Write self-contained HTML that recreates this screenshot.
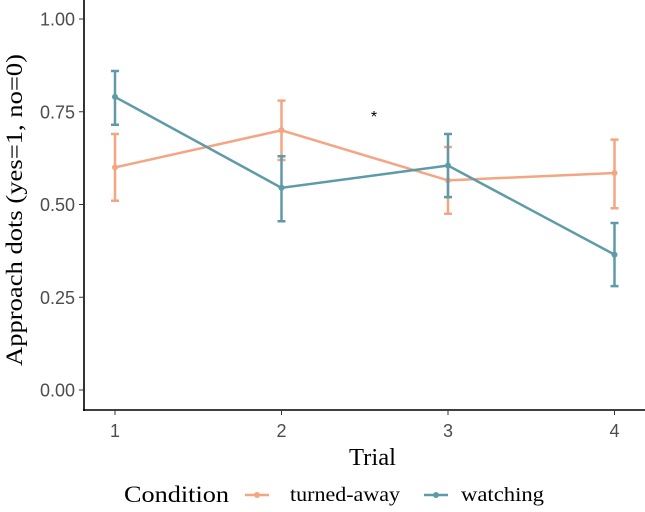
<!DOCTYPE html>
<html><head><meta charset="utf-8"><style>
body{margin:0;background:#fff;}
svg text{font-family:"Liberation Sans",sans-serif;}
.serif{font-family:"Liberation Serif",serif;}
</style></head><body>
<svg width="645" height="507">
<g id="g"></g>
</svg>
<script>
const trials=[1,2,3,4];
const yTicks=[0,0.25,0.5,0.75,1];
const yTickLabels=["0.00","0.25","0.50","0.75","1.00"];
const awayMean=[0.60,0.70,0.565,0.585];
const awayLo=[0.51,0.62,0.475,0.49];
const awayHi=[0.69,0.78,0.655,0.675];
const watchMean=[0.79,0.545,0.605,0.365];
const watchLo=[0.715,0.455,0.52,0.28];
const watchHi=[0.86,0.63,0.69,0.45];
const NS="http://www.w3.org/2000/svg";
const g=document.getElementById('g');
const X=t=>115+(t-1)*166.5;
const Y=v=>390-v*371;
function el(tag,a,parent){const e=document.createElementNS(NS,tag);for(const k in a)e.setAttribute(k,a[k]);(parent||g).appendChild(e);return e;}
let e;
e=el('line',{x1:84,y1:0,x2:84,y2:411,stroke:'#000','stroke-width':1.6});


e=el('line',{x1:83,y1:410,x2:645,y2:410,stroke:'#000','stroke-width':1.6});


yTicks.forEach((v,i)=>{
 e=el('line',{x1:79,x2:84,y1:Y(v),y2:Y(v),stroke:'#333'});
 
 
 e=el('text',{x:75,y:Y(v)+6.5,'text-anchor':'end','font-size':18,fill:'#4d4d4d'});
 e.textContent=yTickLabels[i];
 
 
});
trials.forEach(t=>{
 e=el('line',{x1:X(t),x2:X(t),y1:410,y2:415,stroke:'#333'});
 
 
 e=el('text',{x:X(t),y:437,'text-anchor':'middle','font-size':18,fill:'#4d4d4d'});
 e.textContent=t;
 
 
});
function series(mean,lo,hi,col,name){
 const pts=trials.map((t,i)=>X(t)+','+Y(mean[i])).join(' ');
 e=el('polyline',{points:pts,fill:'none',stroke:col,'stroke-width':2.5});
 
 
 trials.forEach((t,i)=>{
  const x=X(t);
  e=el('path',{d:`M${x-4},${Y(hi[i])}H${x+4}M${x},${Y(hi[i])}V${Y(lo[i])}M${x-4},${Y(lo[i])}H${x+4}`,stroke:col,'stroke-width':2.5,fill:'none'});
  
  
  e=el('circle',{cx:x,cy:Y(mean[i]),r:3,fill:col});
  
  
 });
}
series(awayMean,awayLo,awayHi,'#f4a582','turned-away');
series(watchMean,watchLo,watchHi,'#5e9aa8','watching');
e=el('text',{x:374,y:122,'text-anchor':'middle','font-size':16,fill:'#000'});
e.textContent='*';


e=el('text',{x:349,y:465,'font-size':24,class:'serif',textLength:47,lengthAdjust:'spacingAndGlyphs'});
e.textContent='Trial';


e=el('text',{x:0,y:0,'text-anchor':'middle','font-size':23,class:'serif',transform:'translate(22 210) rotate(-90)',textLength:312,lengthAdjust:'spacingAndGlyphs'});
e.textContent='Approach dots (yes=1, no=0)';


e=el('text',{x:124,y:502,'font-size':23,class:'serif',textLength:105,lengthAdjust:'spacingAndGlyphs'});
e.textContent='Condition';


[['turned-away','#f4a582',245,290,110],['watching','#5e9aa8',424,461,83]].forEach(([n,c,lx,tx,tw])=>{
 e=el('line',{x1:lx,x2:lx+24,y1:495,y2:495,stroke:c,'stroke-width':2.5});
 
 
 el('circle',{cx:lx+12,cy:495,r:3,fill:c});
 e=el('text',{x:tx,y:501,'font-size':20,class:'serif',textLength:tw,lengthAdjust:'spacingAndGlyphs'});
 e.textContent=n;
 
 
});
</script>
</body></html>
